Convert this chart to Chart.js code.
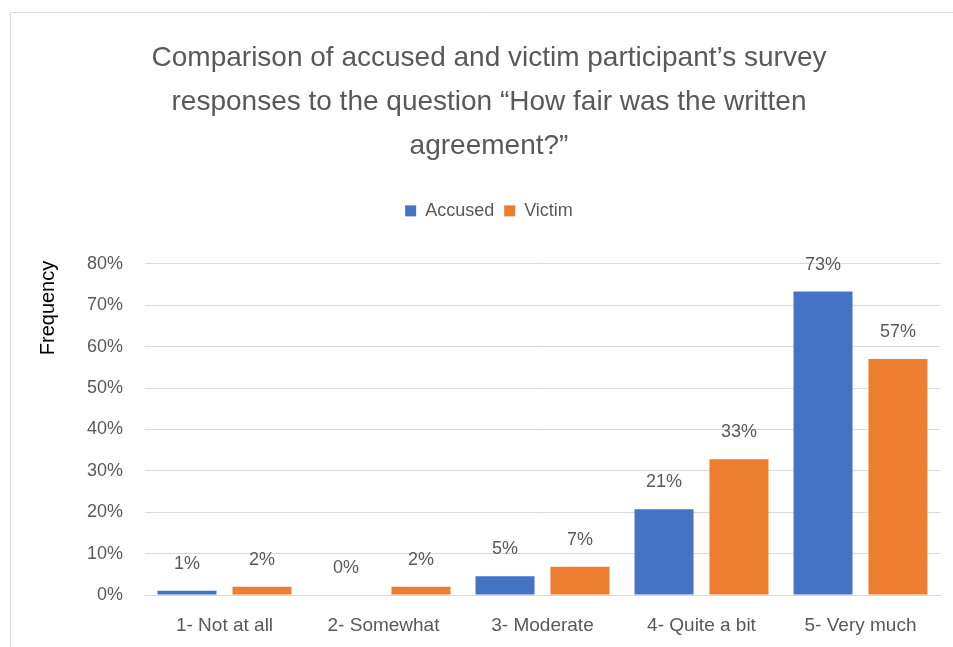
<!DOCTYPE html>
<html>
<head>
<meta charset="utf-8">
<script src="https://cdn.jsdelivr.net/npm/chart.js@4/dist/chart.umd.min.js"></script>
<style>
html,body{margin:0;padding:0;background:#fff;}
#wrap{position:relative;width:953px;height:647px;}
</style>
</head>
<body>
<div id="wrap"><canvas id="c" width="953" height="647"></canvas></div>
<script>
const categories = ["1- Not at all", "2- Somewhat", "3- Moderate", "4- Quite a bit", "5- Very much"];
const accused = [1.0, 0, 4.5, 20.7, 73.3];
const victim = [2.0, 2.0, 6.8, 32.8, 57.0];
const titleLines = ["Comparison of accused and victim participant\u2019s survey", "responses to the question \u201cHow fair was the written", "agreement?\u201d"];
const yTicks = { min: 0, max: 80, step: 10 };
const yTitle = "Frequency";

const TXT = '#595959';
const FONT = "'Liberation Sans', Arial, sans-serif";

const legendSpace = {
  id: 'legendSpace',
  afterInit(chart) {
    const lg = chart.legend;
    const fit = lg.fit;
    lg.fit = function () { fit.call(this); this.height += 34; };
  }
};

const border = {
  id: 'border',
  beforeDraw(chart) {
    const ctx = chart.ctx;
    ctx.save();
    ctx.strokeStyle = '#d9d9d9';
    ctx.lineWidth = 1;
    ctx.beginPath();
    ctx.moveTo(10.5, 700);
    ctx.lineTo(10.5, 12.5);
    ctx.lineTo(960, 12.5);
    ctx.stroke();
    ctx.restore();
  }
};

const yAxisTitle = {
  id: 'yAxisTitle',
  afterDraw(chart) {
    const ctx = chart.ctx;
    ctx.save();
    ctx.fillStyle = '#000';
    ctx.font = "20px " + FONT;
    ctx.textAlign = 'center';
    ctx.textBaseline = 'middle';
    ctx.translate(48, 308);
    ctx.rotate(-Math.PI / 2);
    ctx.fillText(yTitle, 0, 0);
    ctx.restore();
  }
};

const dataLabels = {
  id: 'dataLabels',
  afterDatasetsDraw(chart) {
    const ctx = chart.ctx;
    ctx.save();
    ctx.fillStyle = TXT;
    ctx.font = "18px " + FONT;
    ctx.textAlign = 'center';
    ctx.textBaseline = 'middle';
    chart.data.datasets.forEach((ds, i) => {
      const meta = chart.getDatasetMeta(i);
      meta.data.forEach((bar, j) => {
        ctx.fillText(Math.round(ds.data[j]) + '%', bar.x, bar.y - 27);
      });
    });
    ctx.restore();
  }
};

new Chart(document.getElementById('c'), {
  type: 'bar',
  data: {
    labels: categories,
    datasets: [
      { label: 'Accused', data: accused, backgroundColor: '#4472C4', categoryPercentage: 0.943, barPercentage: 0.787 },
      { label: 'Victim', data: victim, backgroundColor: '#ED7D31', categoryPercentage: 0.943, barPercentage: 0.787 }
    ]
  },
  options: {
    responsive: false,
    animation: false,
    devicePixelRatio: 1,
    layout: { padding: { left: 38, right: 13, top: 14, bottom: 12 } },
    plugins: {
      tooltip: { enabled: false },
      title: {
        display: true,
        text: titleLines,
        color: TXT,
        font: { family: FONT, size: 28, weight: 'normal', lineHeight: 1.57 },
        padding: { top: 22, bottom: 24 }
      },
      legend: {
        display: true,
        position: 'top',
        labels: {
          color: TXT,
          font: { family: FONT, size: 18 },
          boxWidth: 11,
          boxHeight: 11,
          padding: 10
        }
      }
    },
    scales: {
      x: {
        grid: { display: false, drawTicks: false },
        border: { display: true, color: '#d9d9d9' },
        ticks: { color: TXT, font: { family: FONT, size: 19 }, padding: 19, maxRotation: 0 },
        afterFit(s) { s.height = 40; }
      },
      y: {
        min: yTicks.min,
        max: yTicks.max,
        grid: { color: '#d9d9d9', drawTicks: false },
        border: { display: false },
        ticks: {
          stepSize: yTicks.step,
          color: TXT,
          font: { family: FONT, size: 18 },
          padding: 22,
          callback: v => v + '%'
        },
        title: { display: false },
        afterFit(s) { s.width = 107; }
      }
    }
  },
  plugins: [legendSpace, border, yAxisTitle, dataLabels]
});
</script>
</body>
</html>
